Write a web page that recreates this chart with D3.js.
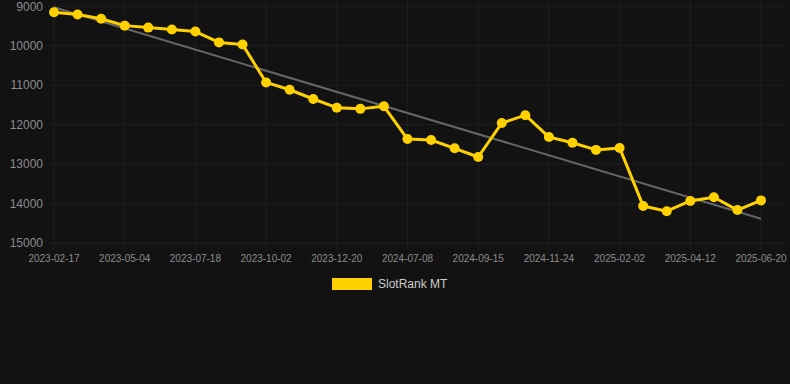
<!DOCTYPE html>
<html>
<head>
<meta charset="utf-8">
<script src="https://cdn.jsdelivr.net/npm/d3@7"></script>
<style>
  html, body { margin: 0; padding: 0; background: #121212; }
  svg { display: block; font-family: "Liberation Sans", Arial, sans-serif; }
</style>
</head>
<body>
<div id="chart"></div>
<script>
// dates of each sample (every third one gets a label)
const dates = [
    "2023-02-17", "2023-03-14", "2023-04-09", "2023-05-04", "2023-05-29", "2023-06-23",
    "2023-07-18", "2023-08-12", "2023-09-07", "2023-10-02", "2023-10-28", "2023-11-24",
    "2023-12-20", "2024-04-12", "2024-06-10", "2024-07-08", "2024-07-31", "2024-08-23",
    "2024-09-15", "2024-10-08", "2024-11-01", "2024-11-24", "2024-12-17", "2025-01-09",
    "2025-02-02", "2025-02-24", "2025-03-19", "2025-04-12", "2025-05-05", "2025-05-28",
    "2025-06-20"
];

const rankValues = [
    9150, 9210, 9315, 9490, 9540, 9590, 9640, 9915, 9970, 10930,
    11115, 11350, 11570, 11600, 11535, 12365, 12390, 12600, 12820, 11960,
    11760, 12315, 12460, 12640, 12590, 14060, 14195, 13935, 13840, 14165,
    13920
];

// trend line end points (first and last sample)
const trendValues = [9025, 14385];

const yTicks = [9000, 10000, 11000, 12000, 13000, 14000, 15000];
const seriesName = "SlotRank MT";

const width = 790, height = 384;
const lineColor = "#ffd100";
const gridColor = "#1f1f1f";
const textColor = "#8c8c8c";

let svg = d3.select("#chart").append("svg")
    .attr("width", width)
    .attr("height", height);

svg.append("rect")
    .attr("width", width)
    .attr("height", height)
    .attr("fill", "#121212");

let xScale = d3.scalePoint()
    .domain(d3.range(dates.length))
    .range([54, 761]);

let yScale = d3.scaleLinear()
    .domain([9000, 15000])
    .range([6.3, 243]); // 9000 at the top, rank goes down

let labelIdx = d3.range(0, dates.length, 3);

// grid
svg.append("g").selectAll("line.h")
    .data(yTicks)
    .join("line")
    .attr("x1", 48).attr("x2", 784)
    .attr("y1", d => yScale(d)).attr("y2", d => yScale(d))
    .attr("stroke", gridColor)
    .attr("stroke-width", 1);

svg.append("g").selectAll("line.v")
    .data(labelIdx)
    .join("line")
    .attr("x1", d => xScale(d)).attr("x2", d => xScale(d))
    .attr("y1", 0).attr("y2", 250)
    .attr("stroke", gridColor)
    .attr("stroke-width", 1);

// y labels
svg.append("g").selectAll("text")
    .data(yTicks)
    .join("text")
    .attr("x", 43)
    .attr("y", d => yScale(d))
    .attr("dy", "0.35em")
    .attr("text-anchor", "end")
    .attr("font-size", 12)
    .attr("fill", textColor)
    .text(d => d);

// x labels
svg.append("g").selectAll("text")
    .data(labelIdx)
    .join("text")
    .attr("x", d => xScale(d))
    .attr("y", 262)
    .attr("text-anchor", "middle")
    .attr("font-size", 10)
    .attr("fill", textColor)
    .text(d => dates[d]);

// trend line
svg.append("path")
    .datum(trendValues)
    .attr("fill", "none")
    .attr("stroke", "#666")
    .attr("stroke-width", 2)
    .attr("d", d3.line()
        .x((d, i) => xScale(i === 0 ? 0 : dates.length - 1))
        .y(d => yScale(d)));

// main series
svg.append("path")
    .datum(rankValues)
    .attr("fill", "none")
    .attr("stroke", lineColor)
    .attr("stroke-width", 3)
    .attr("stroke-linejoin", "round")
    .attr("d", d3.line()
        .x((d, i) => xScale(i))
        .y(d => yScale(d)));

svg.append("g").selectAll("circle")
    .data(rankValues)
    .join("circle")
    .attr("cx", (d, i) => xScale(i))
    .attr("cy", d => yScale(d))
    .attr("r", 5)
    .attr("fill", lineColor);

// legend
let legend = svg.append("g").attr("transform", "translate(332,278)");
legend.append("rect")
    .attr("width", 40)
    .attr("height", 12)
    .attr("fill", lineColor);
legend.append("text")
    .attr("x", 46)
    .attr("y", 6)
    .attr("dy", "0.35em")
    .attr("font-size", 12)
    .attr("fill", "#cccccc")
    .text(seriesName);
</script>
</body>
</html>
